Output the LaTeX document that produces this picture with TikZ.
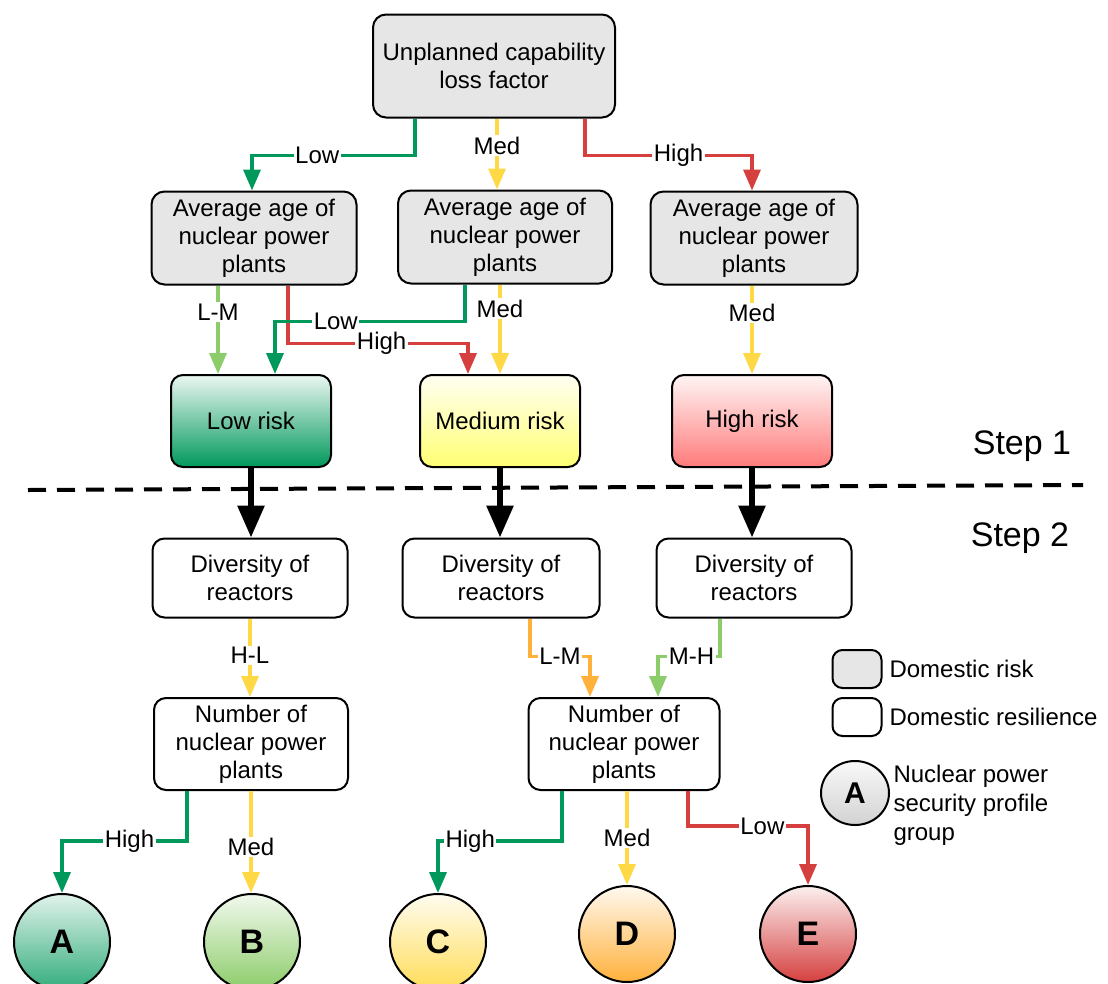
\documentclass[tikz,border=0pt]{standalone}
\usepackage{fontspec}
\setmainfont{Liberation Sans}
\usetikzlibrary{arrows.meta,shapes.geometric}
\definecolor{boxgray}{HTML}{E6E6E6}
\definecolor{cgrn}{HTML}{00985B}
\definecolor{clgrn}{HTML}{8CCC6A}
\definecolor{cyel}{HTML}{FFD945}
\definecolor{corng}{HTML}{FFB13B}
\definecolor{cred}{HTML}{D5403F}
\begin{document}
\begin{tikzpicture}[x=1pt,y=-1pt,>={Triangle[width=17pt,length=21pt]}]
	\tikzstyle{every node}=[font=\fontsize{24}{28}\selectfont]
	\tikzstyle{riskq}=[draw,line width=2pt,rounded corners=13pt,fill=boxgray,align=center]
	\tikzstyle{resil}=[draw,line width=2pt,rounded corners=12pt,fill=white,align=center]
	\tikzstyle{level}=[draw,line width=2pt,rounded corners=12pt,minimum width=160pt,minimum height=92pt]
	\tikzstyle{grp}=[circle,draw,line width=2pt,minimum size=96pt,inner sep=0pt,font=\fontsize{34}{34}\selectfont\bfseries]
	\tikzstyle{lbl}=[fill=white,inner sep=1.5pt]
	\tikzstyle{link}=[->,line width=3.5pt]
	\tikzstyle{bigarr}=[line width=6pt,-{Triangle[width=26pt,length=32pt]}]
	\useasboundingbox (0,0) rectangle (1108,983);

	\node[riskq,minimum width=242pt,minimum height=103pt] (top) at (494,66) {Unplanned capability\\loss factor};
	\node[riskq,minimum width=205pt,minimum height=93pt] (ageL) at (254,238) {Average age of\\nuclear power\\plants};
	\node[riskq,minimum width=214pt,minimum height=93pt] (ageM) at (505,237) {Average age of\\nuclear power\\plants};
	\node[riskq,minimum width=207pt,minimum height=93pt] (ageR) at (754,238) {Average age of\\nuclear power\\plants};

	\node[level,top color=cgrn!8,bottom color=cgrn] (lowrisk) at (251,421) {Low risk};
	\node[level,top color=yellow!5,bottom color=yellow!55] (medrisk) at (500,421) {Medium risk};
	\node[level,top color=red!4,bottom color=red!52] (highrisk) at (752,421) {High risk};

	\node[font=\fontsize{34}{34}\selectfont] (step1) at (1022,446) {Step 1};
	\node[font=\fontsize{34}{34}\selectfont] (step2) at (1020,538) {Step 2};
	\draw[line width=4pt,dash pattern=on 18pt off 11pt] (28,490) -- (1083,485);

	\node[resil,minimum width=195pt,minimum height=79pt] (divL) at (250,578) {Diversity of\\reactors};
	\node[resil,minimum width=197pt,minimum height=79pt] (divM) at (501,578) {Diversity of\\reactors};
	\node[resil,minimum width=195pt,minimum height=79pt] (divR) at (754,578) {Diversity of\\reactors};
	\node[resil,minimum width=194pt,minimum height=92pt] (numL) at (251,744) {Number of\\nuclear power\\plants};
	\node[resil,minimum width=191pt,minimum height=92pt] (numR) at (624,744) {Number of\\nuclear power\\plants};

	\node[grp,top color=cgrn!12,bottom color=cgrn!80] (A) at (62,942) {A};
	\node[grp,top color=clgrn!12,bottom color=clgrn] (B) at (252,942) {B};
	\node[grp,top color=cyel!8,bottom color=cyel!90] (C) at (438,942) {C};
	\node[grp,top color=corng!8,bottom color=corng] (D) at (627,934) {D};
	\node[grp,top color=cred!8,bottom color=cred] (E) at (808,934) {E};

	\node[riskq,rounded corners=10pt,minimum width=49pt,minimum height=38pt] (keyrisk) at (857,669) {};
	\node[resil,rounded corners=10pt,minimum width=49pt,minimum height=38pt] (keyres) at (857,717) {};
	\node[anchor=west] (keyrisktxt) at (886,669) {Domestic risk};
	\node[anchor=west] (keyrestxt) at (886,717) {Domestic resilience};
	\node[ellipse,draw,line width=2pt,minimum width=68pt,minimum height=64pt,inner sep=0pt,top color=gray!5,bottom color=gray!35,font=\fontsize{30}{30}\selectfont\bfseries] (keygrp) at (855,793) {A};
	\node[anchor=north west,align=left,font=\fontsize{24}{29}\selectfont] (keygrptxt) at (890,762) {Nuclear power\\security profile\\group};

	\draw[link,cgrn] ([xshift=-79pt]top.south) -- ++(0,37) -| node[lbl,pos=0.3,text=black]{Low} ([xshift=-2pt]ageL.north);
	\draw[link,cyel] ([xshift=3pt]top.south) -- node[lbl,pos=0.38,text=black]{Med} ([xshift=-8pt]ageM.north);
	\draw[link,cred] ([xshift=91pt]top.south) -- ++(0,37) -| node[lbl,pos=0.28,text=black]{High} ([xshift=-2pt]ageR.north);

	\draw[link,clgrn] ([xshift=-36pt]ageL.south) -- node[lbl,pos=0.3,text=black]{L-M} ([xshift=-33pt]lowrisk.north);
	\draw[link,cred] ([xshift=34pt]ageL.south) -- ++(0,58) -| node[lbl,pos=0.26,text=black]{High} ([xshift=-32pt]medrisk.north);
	\draw[link,cgrn] ([xshift=-40pt]ageM.south) -- ++(0,37) -| node[lbl,pos=0.34,text=black]{Low} ([xshift=24pt]lowrisk.north);
	\draw[link,cyel] ([xshift=-5pt]ageM.south) -- node[lbl,pos=0.27,text=black]{Med} (medrisk.north);
	\draw[link,cyel] ([xshift=-2pt]ageR.south) -- node[lbl,pos=0.31,text=black]{Med} (highrisk.north);

	\draw[bigarr] (lowrisk.south) -- (lowrisk.south |- divL.north);
	\draw[bigarr] (medrisk.south) -- (medrisk.south |- divM.north);
	\draw[bigarr] (highrisk.south) -- (highrisk.south |- divR.north);

	\draw[link,cyel] (divL.south) -- node[lbl,pos=0.47,text=black]{H-L} (divL.south |- numL.north);
	\draw[link,corng] ([xshift=29pt]divM.south) -- ++(0,38) -| node[lbl,pos=0.25,text=black]{L-M} ([xshift=-34pt]numR.north);
	\draw[link,clgrn] ([xshift=-34pt]divR.south) -- ++(0,38) -| node[lbl,pos=0.23,text=black]{M-H} ([xshift=34pt]numR.north);

	\draw[link,cgrn] ([xshift=-64pt]numL.south) -- ++(0,50) -| node[lbl,pos=0.23,text=black]{High} (A.north);
	\draw[link,cyel] (numL.south) -- node[lbl,pos=0.55,text=black]{Med} (numL.south |- B.north);
	\draw[link,cgrn] ([xshift=-62pt]numR.south) -- ++(0,50) -| node[lbl,pos=0.37,text=black]{High} (C.north);
	\draw[link,cyel] ([xshift=3pt]numR.south) -- node[lbl,pos=0.5,text=black]{Med} (D.north);
	\draw[link,cred] ([xshift=64pt]numR.south) -- ++(0,35) -| node[lbl,pos=0.31,text=black]{Low} (E.north);
\end{tikzpicture}
\end{document}
